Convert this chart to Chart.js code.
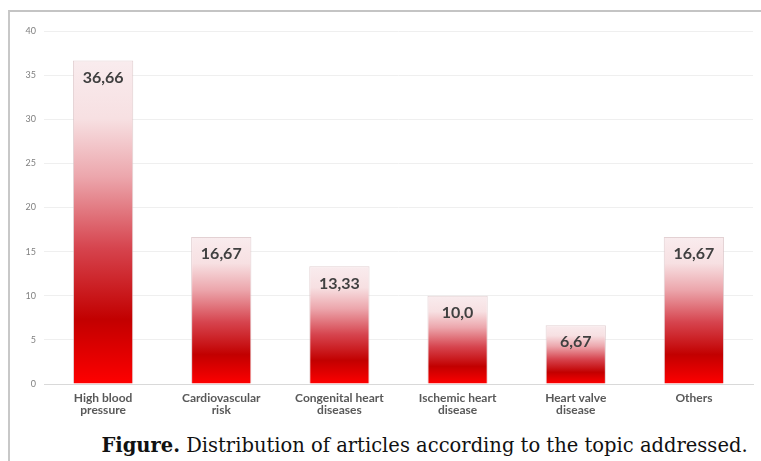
<!DOCTYPE html>
<html>
<head>
<meta charset="utf-8">
<script src="https://cdn.jsdelivr.net/npm/chart.js@4/dist/chart.umd.min.js"></script>
<style>
  html, body { margin: 0; padding: 0; background: #fff; }
  #wrap { position: relative; width: 761px; height: 461px; overflow: hidden; }
  #frame { position: absolute; left: 8px; top: 10px; width: 760px; height: 460px;
           border-left: 2px solid #c8c8c8; border-top: 2px solid #c4c4c4; }
  #chart { position: absolute; left: 0; top: 0; }
  #caption { position: absolute; left: 0; width: 849px; top: 434px; text-align: center;
             font-family: "DejaVu Serif", serif; font-size: 19.5px; color: #111; white-space: nowrap; }
</style>
</head>
<body>
<div id="wrap">
  <div id="frame"></div>
  <canvas id="chart" width="761" height="421"></canvas>
  <div id="caption"><b>Figure.</b> Distribution of articles according to the topic addressed.</div>
</div>
<script>
var categories = [
  ['High blood', 'pressure'],
  ['Cardiovascular', 'risk'],
  ['Congenital heart', 'diseases'],
  ['Ischemic heart', 'disease'],
  ['Heart valve', 'disease'],
  'Others'
];
var values = [36.66, 16.67, 13.33, 10.0, 6.67, 16.67];
var valueLabels = ['36,66', '16,67', '13,33', '10,0', '6,67', '16,67'];
var yTicks = [0, 5, 10, 15, 20, 25, 30, 35, 40];

function barGradient(context) {
  var chart = context.chart;
  var area = chart.chartArea;
  if (!area || context.type !== 'data') return '#d00000';
  var y = chart.scales.y;
  var top = y.getPixelForValue(values[context.dataIndex]);
  var base = y.getPixelForValue(0);
  var g = chart.ctx.createLinearGradient(0, base, 0, top);
  g.addColorStop(0, '#ff0000');
  g.addColorStop(0.08, '#e60000');
  g.addColorStop(0.2, '#c20000');
  g.addColorStop(0.42, '#d6444e');
  g.addColorStop(0.64, '#eca6ac');
  g.addColorStop(0.82, '#f7e0e2');
  g.addColorStop(1, '#f9ecee');
  return g;
}

var valueLabelPlugin = {
  id: 'valueLabels',
  afterDatasetsDraw: function(chart) {
    var ctx = chart.ctx;
    var meta = chart.getDatasetMeta(0);
    ctx.save();
    ctx.font = 'bold 16px Lato, sans-serif';
    ctx.fillStyle = '#404040';
    ctx.textAlign = 'center';
    ctx.textBaseline = 'middle';
    meta.data.forEach(function(bar, i) {
      ctx.fillText(valueLabels[i], bar.x, bar.y + 17);
    });
    ctx.restore();
  }
};

new Chart(document.getElementById('chart').getContext('2d'), {
  type: 'bar',
  data: {
    labels: categories,
    datasets: [{
      data: values,
      backgroundColor: barGradient,
      borderColor: 'rgba(215,190,192,0.7)',
      borderWidth: 1,
      categoryPercentage: 1,
      barPercentage: 0.51
    }]
  },
  options: {
    responsive: false,
    animation: false,
    layout: { padding: { top: 31, right: 8, left: 0, bottom: 0 } },
    plugins: { legend: { display: false }, tooltip: { enabled: false } },
    scales: {
      x: {
        grid: { display: false, drawTicks: false },
        border: { color: '#d9d9d9', width: 1 },
        ticks: { color: '#595959', font: { family: 'Lato', size: 12, weight: 'bold', lineHeight: 1.0 }, padding: 8, maxRotation: 0 },
        afterFit: function(scale) { scale.height = 37; }
      },
      y: {
        min: 0, max: 40,
        afterBuildTicks: function(scale) { scale.ticks = yTicks.map(function(v) { return { value: v }; }); },
        grid: { color: '#efefef', drawTicks: false },
        border: { display: false },
        ticks: { color: '#808080', font: { family: 'Lato', size: 9 }, padding: 8 },
        afterFit: function(scale) { scale.width = 44; }
      }
    }
  },
  plugins: [valueLabelPlugin]
});
</script>
</body>
</html>
